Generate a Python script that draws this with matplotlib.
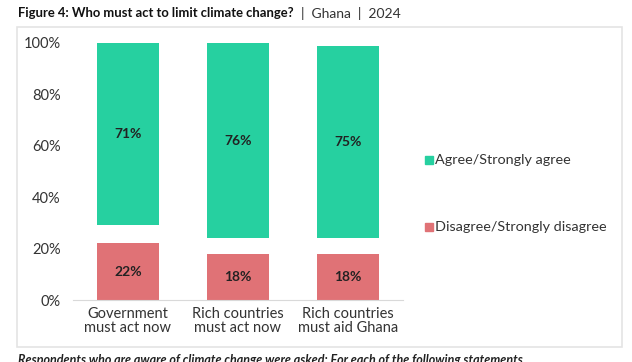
import matplotlib
matplotlib.use("Agg")
import matplotlib.pyplot as plt
from matplotlib.patches import Rectangle
from matplotlib.text import Annotation

categories = ["Government\nmust act now", "Rich countries\nmust act now", "Rich countries\nmust aid Ghana"]
disagree = [22, 18, 18]
other = [7, 6, 6]          # invisible gap (neither / don't know)
agree = [71, 76, 75]
yticks = [0, 20, 40, 60, 80, 100]

GREEN = "#26D0A0"
RED = "#E07276"
TXT = "#333333"

plt.rcParams['font.family'] = ['Lato', 'DejaVu Sans']

fig = plt.figure(figsize=(6.32, 3.62), dpi=100)
fig.patch.set_facecolor("white")

# frame
fig.patches.append(Rectangle((17/632, 1-347/362), (622-17)/632, (347-27)/362,
                             transform=fig.transFigure, fill=False,
                             edgecolor="#e4e4e4", linewidth=1.2))

ax = fig.add_axes([73/632, 1-300/362, (403-73)/632, (300-43)/362])
x = range(len(categories))
w = 0.555
ax.bar(x, disagree, width=w, color=RED, label="Disagree/Strongly disagree")
bottom2 = [d + o for d, o in zip(disagree, other)]
ax.bar(x, other, width=w, bottom=disagree, color="none")
ax.bar(x, agree, width=w, bottom=bottom2, color=GREEN, label="Agree/Strongly agree")

for i in x:
    ax.text(i, disagree[i]/2, f"{disagree[i]}%", ha="center", va="center",
            fontsize=10, fontweight="bold", color="#222222")
    ax.text(i, bottom2[i] + agree[i]/2, f"{agree[i]}%", ha="center", va="center",
            fontsize=10, fontweight="bold", color="#222222")

ax.set_xlim(-0.5, 2.5)
ax.set_ylim(0, 100)
ax.set_yticks(yticks)
ax.set_yticklabels([f"{t}%" for t in yticks], fontsize=10.5, color=TXT)
ax.set_xticks(list(x))
ax.set_xticklabels(categories, fontsize=10.5, color=TXT, linespacing=1.05)
ax.tick_params(length=0, pad=5)
ax.tick_params(axis='y', pad=9)
for s in ["top", "right", "left"]:
    ax.spines[s].set_visible(False)
ax.spines["bottom"].set_color("#d9d9d9")

# legend
fig.patches.append(Rectangle((425/632, 1-164/362), 8/632, 8/362, transform=fig.transFigure,
                             color=GREEN))
fig.text(435/632, 1-160/362, "Agree/Strongly agree", fontsize=10.4, color=TXT, va="center")
fig.patches.append(Rectangle((425/632, 1-231/362), 8/632, 8/362, transform=fig.transFigure,
                             color=RED))
fig.text(435/632, 1-227/362, "Disagree/Strongly disagree", fontsize=10.4, color=TXT, va="center")

# title
t1 = fig.text(18/632, 1-13/362, "Figure 4: Who must act to limit climate change?",
              fontsize=9.4, fontweight="bold", color="#111111", va="center")
fig.add_artist(Annotation("  |  Ghana  |  2024", xy=(1, 0.5), xycoords=t1,
                          va="center", ha="left", fontsize=10, color="#333333"))

# bottom cut-off note
fig.text(18/632, 1-360/362,
         "Respondents who are aware of climate change were asked: For each of the following statements",
         fontsize=9, fontweight="bold", fontstyle="italic", color="#222222", va="center")

fig.savefig("out.png", dpi=100, facecolor="white")
